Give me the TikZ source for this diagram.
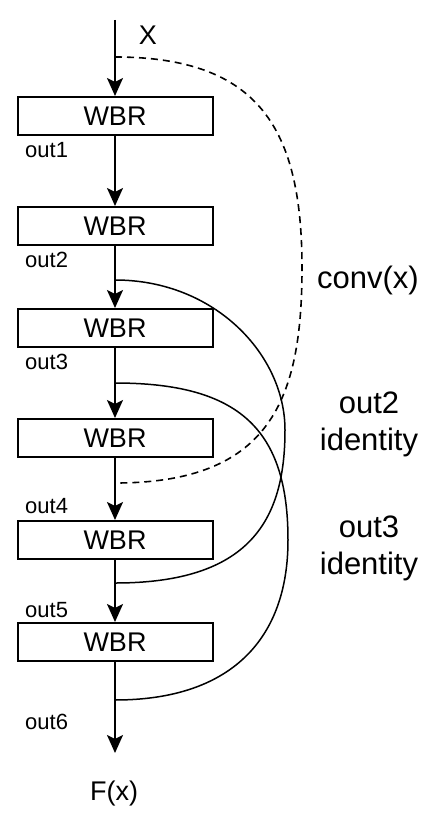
\documentclass[tikz,border=0pt]{standalone}
\usepackage{fontspec}
\setmainfont{Liberation Sans}
\usetikzlibrary{arrows.meta}

\begin{document}
\begin{tikzpicture}[x=1pt,y=-1pt,
    wbr/.style={draw,line width=2pt,minimum width=195pt,minimum height=38pt,inner sep=0pt,font=\fontsize{27}{30}\selectfont},
    flow/.style={line width=2pt,-{Stealth[length=18pt,width=16pt,inset=4pt]}},
    skip/.style={line width=1.5pt},
    convline/.style={line width=1.6pt,dash pattern=on 7pt off 5pt},
    outlbl/.style={anchor=base west,inner sep=0pt,font=\fontsize{22}{24}\selectfont},
    biglbl/.style={align=center,inner sep=0pt,font=\fontsize{31}{37}\selectfont}]
\useasboundingbox (0,0) rectangle (434,816);

% Blocks
\node[wbr] (w1) at (115,116) {WBR};
\node[wbr] (w2) at (115,226) {WBR};
\node[wbr] (w3) at (115,328) {WBR};
\node[wbr] (w4) at (115,438) {WBR};
\node[wbr] (w5) at (115,540) {WBR};
\node[wbr] (w6) at (115,642) {WBR};

% Points on the main line
\coordinate (in) at (115,20);
\coordinate (xsplit) at (115,57);
\coordinate (convin) at (115,483);
\coordinate (o2) at (115,280);
\coordinate (o2in) at (115,583);
\coordinate (o3) at (115,383);
\coordinate (o3in) at (115,700);
\coordinate (fout) at (115,753);

% Main flow
\draw[flow] (in) -- (w1);
\draw[flow] (w1) -- (w2);
\draw[flow] (w2) -- (w3);
\draw[flow] (w3) -- (w4);
\draw[flow] (w4) -- (w5);
\draw[flow] (w5) -- (w6);
\draw[flow] (w6) -- (fout);

% Skip connections
\draw[convline] (xsplit) .. controls (260,57) and (302,130) .. (302,268) .. controls (302,400) and (270,483) .. (convin);
\draw[skip] (o2) .. controls (215,280) and (285,355) .. (285,430) .. controls (285,520) and (250,583) .. (o2in);
\draw[skip] (o3) .. controls (240,383) and (288,430) .. (288,540) .. controls (288,640) and (230,700) .. (o3in);

% Labels
\node[anchor=base,inner sep=0pt,font=\fontsize{27}{30}\selectfont] (xlbl) at (148,45) {X};
\node[anchor=base,inner sep=0pt,font=\fontsize{27}{30}\selectfont] (fx) at (114,800) {F(x)};
\node[outlbl] (l1) at (25,157) {out1};
\node[outlbl] (l2) at (25,267) {out2};
\node[outlbl] (l3) at (25,369) {out3};
\node[outlbl] (l4) at (25,513) {out4};
\node[outlbl] (l5) at (25,617) {out5};
\node[outlbl] (l6) at (25,729) {out6};
\node[biglbl,anchor=base] (conv) at (368,288) {conv(x)};
\node[biglbl] (id2) at (369,424) {out2\\identity};
\node[biglbl] (id3) at (369,548) {out3\\identity};
\end{tikzpicture}
\end{document}
